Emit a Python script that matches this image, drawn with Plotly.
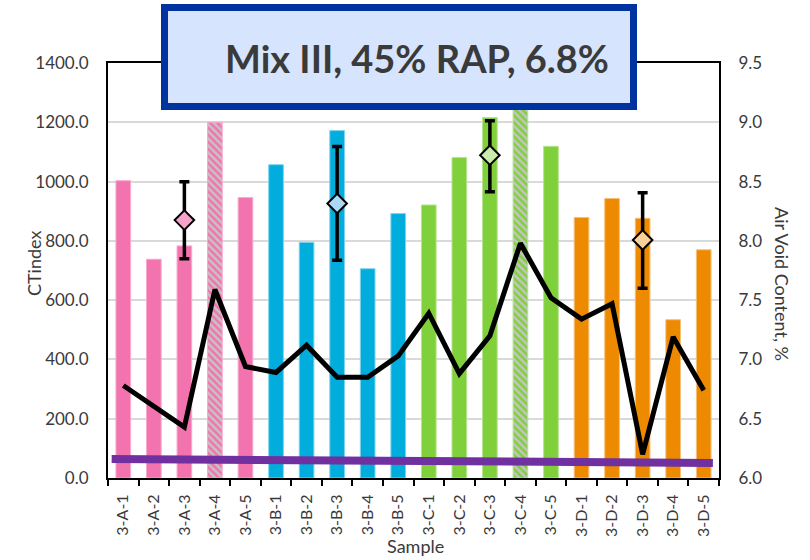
import plotly.graph_objects as go

# ---------------- data ----------------
samples = ["3-A-1", "3-A-2", "3-A-3", "3-A-4", "3-A-5",
           "3-B-1", "3-B-2", "3-B-3", "3-B-4", "3-B-5",
           "3-C-1", "3-C-2", "3-C-3", "3-C-4", "3-C-5",
           "3-D-1", "3-D-2", "3-D-3", "3-D-4", "3-D-5"]
ctindex = [1003, 738, 783, 1200, 946,
           1057, 795, 1172, 706, 892,
           921, 1081, 1216, 1350, 1119,
           879, 943, 876, 534, 770]
air_void = [6.78, 6.61, 6.43, 7.59, 6.94,
            6.89, 7.12, 6.85, 6.85, 7.03,
            7.39, 6.88, 7.20, 7.98, 7.52,
            7.34, 7.47, 6.20, 7.19, 6.74]
outlier = [False, False, False, True, False,
           False, False, False, False, False,
           False, False, False, True, False,
           False, False, False, False, False]
group_of = ["A"] * 5 + ["B"] * 5 + ["C"] * 5 + ["D"] * 5

mean_samples = ["3-A-3", "3-B-3", "3-C-3", "3-D-3"]
mean_groups = ["A", "B", "C", "D"]
mean_ctindex = [870, 926, 1089, 803]
err_plus = [129, 192, 116, 159]
err_minus = [130, 191, 123, 163]

trend_start = 64   # CTindex at left end of trend line
trend_end = 51     # CTindex at right end

title_text = "Mix III, 45% RAP, 6.8%"

# ---------------- styles ----------------
bar_colors = {"A": "#F373AF", "B": "#00ADDC", "C": "#80D03B", "D": "#EE8A00"}
edge_colors = {"A": "#F8A9CD", "B": "#7FD3EE", "C": "#B5E490", "D": "#F6C07A"}
diamond_colors = {"A": "#F5A3C9", "B": "#A9D9F7", "C": "#C9EBAE", "D": "#FAD09B"}
hatch_bg = "#C4C4C4"
txt = "#3A3A3A"
FONT = "Lato"

xpos = list(range(len(samples)))
idx = {s: i for i, s in enumerate(samples)}

fig = go.Figure()

# solid bars
solid_x = [i for i in xpos if not outlier[i]]
fig.add_trace(go.Bar(
    x=solid_x, y=[ctindex[i] for i in solid_x], width=0.48,
    marker=dict(
        color=[bar_colors[group_of[i]] for i in solid_x],
        line=dict(color=[edge_colors[group_of[i]] for i in solid_x], width=1),
    ),
    showlegend=False, hoverinfo="skip",
))

# hatched bars (one trace each)
for i in xpos:
    if not outlier[i]:
        continue
    g = group_of[i]
    fig.add_trace(go.Bar(
        x=[i], y=[ctindex[i]], width=0.48,
        marker=dict(
            color=bar_colors[g],
            line=dict(color=edge_colors[g], width=1),
            pattern=dict(shape="\\", fgcolor=bar_colors[g], bgcolor=hatch_bg,
                         size=5, solidity=0.5, fillmode="replace"),
        ),
        showlegend=False, hoverinfo="skip",
    ))

# trend line (purple)
fig.add_trace(go.Scatter(
    x=[-0.38, 19.3], y=[trend_start, trend_end], mode="lines",
    line=dict(color="#7030A0", width=8), showlegend=False,
))

# air void line on secondary axis
fig.add_trace(go.Scatter(
    x=xpos, y=air_void, yaxis="y2", mode="lines",
    line=dict(color="black", width=5), showlegend=False,
))

# means with error bars
fig.add_trace(go.Scatter(
    x=[idx[s] for s in mean_samples], y=mean_ctindex, mode="markers",
    marker=dict(symbol="diamond", size=15,
                color=[diamond_colors[g] for g in mean_groups],
                line=dict(color="black", width=2)),
    error_y=dict(type="data", symmetric=False, array=err_plus, arrayminus=err_minus,
                 color="black", thickness=3.5, width=5),
    showlegend=False,
))

L, R, T, B = 108, 719, 63, 478
W, H = 810, 560

def px(xp):
    return (xp - L) / (R - L)

def py(yp):
    return (B - yp) / (B - T)

fig.update_layout(
    width=W, height=H,
    margin=dict(l=L, r=W - R, t=T, b=H - B, pad=0),
    paper_bgcolor="white", plot_bgcolor="white",
    font=dict(family=FONT, color=txt),
    barmode="overlay",
    xaxis=dict(
        range=[-0.5, 19.5], tickmode="array", tickvals=xpos, ticktext=samples,
        tickangle=-90, tickfont=dict(size=16, color=txt, family=FONT),
        ticks="", showgrid=False, zeroline=False,
        showline=True, linecolor="black", linewidth=2, mirror=True,
        ticklabelstandoff=8,
        minor=dict(tickvals=[i - 0.5 for i in range(21)], ticks="outside",
                   ticklen=6, tickcolor="black", tickwidth=2, showgrid=False),
    ),
    yaxis=dict(
        range=[0, 1400], dtick=200, tickformat=".1f",
        tickfont=dict(size=17, color=txt, family=FONT),
        showgrid=True, gridcolor="#D9D9D9", gridwidth=1.5, zeroline=False,
        showline=True, linecolor="black", linewidth=2, mirror=True,
        ticks="", ticklabelstandoff=14,
    ),
    yaxis2=dict(
        range=[6.0, 9.5], dtick=0.5, tickformat=".1f", overlaying="y", side="right",
        tickfont=dict(size=17, color=txt, family=FONT),
        showgrid=False, zeroline=False,
        showline=True, linecolor="black", linewidth=2,
        ticks="", ticklabelstandoff=14,
    ),
    shapes=[dict(
        type="rect", xref="paper", yref="paper",
        x0=px(164.5), x1=px(633.5), y0=py(106.5), y1=py(7.5),
        line=dict(color="#0033A0", width=7), fillcolor="#D6E4FD", layer="above",
    )],
    annotations=[
        dict(text="<b>" + title_text + "</b>", xref="paper", yref="paper",
             x=px(417), y=py(58), xanchor="center", yanchor="middle",
             showarrow=False, font=dict(size=38, color="#3A3A3A", family=FONT)),
        dict(text="CTindex", xref="paper", yref="paper",
             x=px(34), y=py(264), xanchor="center", yanchor="middle",
             textangle=-90, showarrow=False, font=dict(size=18, color=txt, family=FONT)),
        dict(text="Air Void Content, %", xref="paper", yref="paper",
             x=px(782), y=py(284), xanchor="center", yanchor="middle",
             textangle=90, showarrow=False, font=dict(size=18, color=txt, family=FONT)),
        dict(text="Sample", xref="paper", yref="paper",
             x=px(415), y=py(546), xanchor="center", yanchor="middle",
             showarrow=False, font=dict(size=18, color=txt, family=FONT)),
    ],
)

fig.write_html("out.html")
